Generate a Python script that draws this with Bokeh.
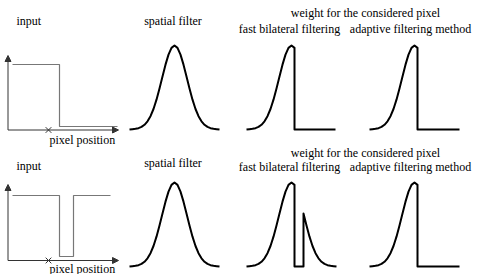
from bokeh.plotting import figure
from bokeh.models import Range1d, Arrow, NormalHead
from bokeh.core.properties import value
from bokeh.embed import file_html
from bokeh.resources import INLINE

# ---- data ----
# filter profile: offset from the considered pixel vs. relative weight
profile_dx = [-45, -42, -39, -36, -33, -30, -27, -24, -21, -18, -15, -12, -9, -6, -3,
              0, 3, 6, 9, 12, 15, 18, 21, 24, 27, 30, 33, 36, 39, 42, 45]
profile_h = [0.0, 0.004, 0.008, 0.016, 0.031, 0.056, 0.097, 0.158, 0.244, 0.355, 0.487,
             0.631, 0.772, 0.891, 0.972, 1.0, 0.972, 0.891, 0.772, 0.631, 0.487, 0.355,
             0.244, 0.158, 0.097, 0.056, 0.031, 0.016, 0.008, 0.004, 0.0]

# input signals: pixel position vs. grey level (top row: step, bottom row: dip)
sig1_x = [12, 59, 59, 117]
sig1_y = [1.0, 1.0, 0.05, 0.05]
sig2_x = [12, 59, 59, 73, 73, 110]
sig2_y = [1.0, 1.0, 0.06, 0.06, 1.0, 1.0]
considered_pixel = 48

# weight cut positions (offsets from centre)
cut_top = 3           # fast bilateral / adaptive: weight drops to 0 after +3
gap_bottom = (3, 12)  # fast bilateral bottom row: zero weight inside the dip

titles_top = ["input", "spatial filter", "weight for the considered pixel",
              "fast bilateral filtering", "adaptive filtering method"]
axis_label = "pixel position"

# ---- layout (diagram geometry, in reference pixels) ----
row_curve_base = [129, 266]
row_axis_y = [129.5, 260]
row_axis_top = [55, 184]
sig_top = [64, 195]
sig_bottom = [126, 256]
curve_height = 84
c_spatial, c_fast, c_adapt = 174, 291, 414

W, H = 477, 274
p = figure(width=W, height=H, output_backend="svg", toolbar_location=None,
           x_axis_location=None, y_axis_location=None,
           x_range=Range1d(0, 477), y_range=Range1d(274, 0),
           min_border=0, outline_line_color=None)
p.grid.visible = False
p.background_fill_color = "white"

FONT = value("Times New Roman")
FS = "12px"
AX = "#333333"
SIG = "#777777"


def seg(center, base, lo=None, hi=None):
    xs, ys = [], []
    for dx, h in zip(profile_dx, profile_h):
        if (lo is None or dx >= lo) and (hi is None or dx <= hi):
            xs.append(center + dx)
            ys.append(base - h * curve_height)
    return xs, ys


for r in range(2):
    base = row_curve_base[r]
    ay = row_axis_y[r]
    # input axes
    p.add_layout(Arrow(end=NormalHead(size=6, fill_color=AX, line_color=AX, line_width=1),
                       x_start=7.5, y_start=ay, x_end=7.5, y_end=row_axis_top[r],
                       line_color=AX, line_width=1))
    p.add_layout(Arrow(end=NormalHead(size=6, fill_color=AX, line_color=AX, line_width=1),
                       x_start=7.5, y_start=ay, x_end=118, y_end=ay,
                       line_color=AX, line_width=1))
    # input signal
    sx = sig1_x if r == 0 else sig2_x
    sy = sig1_y if r == 0 else sig2_y
    span = sig_bottom[r] - sig_top[r]
    p.line(sx, [sig_bottom[r] - (v - sy[2]) / (1 - sy[2]) * span for v in sy],
           line_color=SIG, line_width=1.2)
    p.scatter([considered_pixel], [ay], marker="x", size=8, line_color=AX, line_width=1)

    # spatial filter
    xs, ys = seg(c_spatial, base)
    p.line(xs, ys, line_color="black", line_width=2, line_join="round")

    # fast bilateral filtering
    xs, ys = seg(c_fast, base, hi=cut_top)
    if r == 0:
        xs += [c_fast + cut_top, c_fast + 44]
        ys += [base, base]
    else:
        xs += [c_fast + gap_bottom[0], c_fast + gap_bottom[1]]
        ys += [base, base]
        x2, y2 = seg(c_fast, base, lo=gap_bottom[1])
        xs += x2
        ys += y2
    p.line(xs, ys, line_color="black", line_width=2, line_join="round")

    # adaptive filtering method
    xs, ys = seg(c_adapt, base, hi=cut_top)
    xs += [c_adapt + cut_top, c_adapt + 45]
    ys += [base, base]
    p.line(xs, ys, line_color="black", line_width=2, line_join="round")

# ---- texts ----
left_x = [16, 49]
left_y = [[20, 139], [165, 268]]
for r in range(2):
    p.text(left_x, left_y[r], text=[titles_top[0], axis_label],
           text_font=FONT, text_font_size=FS, text_align="left",
           text_baseline="alphabetic", text_color="black")

center_x = [172.5, 365, 289, 410]
center_y = [[20, 12, 28, 28], [162, 152.5, 166, 166]]
for r in range(2):
    p.text(center_x, center_y[r], text=titles_top[1:],
           text_font=FONT, text_font_size=FS, text_align="center",
           text_baseline="alphabetic", text_color="black")

open("out.html", "w").write(file_html(p, INLINE))
